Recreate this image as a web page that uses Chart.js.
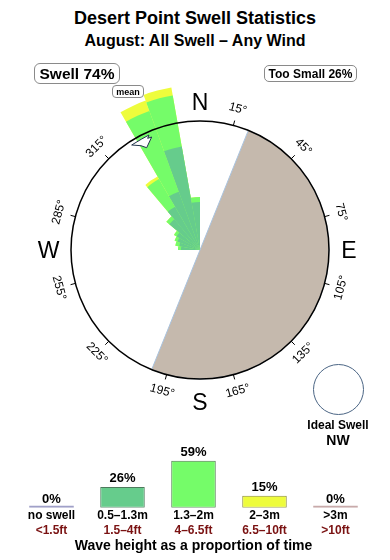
<!DOCTYPE html>
<html>
<head>
<meta charset="utf-8">
<script src="https://cdn.jsdelivr.net/npm/chart.js@4.4.1/dist/chart.umd.min.js"></script>
<style>
html,body{margin:0;padding:0;background:#fff;}
body{width:390px;height:560px;position:relative;overflow:hidden;font-family:"Liberation Sans",Arial,Helvetica,sans-serif;color:#000;}
.t{position:absolute;left:0;width:390px;text-align:center;font-weight:bold;white-space:nowrap;}
.box{position:absolute;box-sizing:border-box;border:1px solid #8a8a8a;border-radius:6px;display:flex;align-items:center;justify-content:center;font-weight:bold;white-space:nowrap;background:#fff;}
canvas{position:absolute;}
</style>
</head>
<body>
<div class="t" style="top:9px;font-size:18px;line-height:18px;">Desert Point Swell Statistics</div>
<div class="t" style="top:33px;font-size:16px;line-height:16px;">August: All Swell – Any Wind</div>

<canvas id="shade" width="340" height="340" style="left:30px;top:80px;"></canvas>
<canvas id="rose" width="340" height="340" style="left:30px;top:80px;"></canvas>
<canvas id="hist" width="355" height="120" style="left:16px;top:440px;"></canvas>

<div class="box" id="swellBox" style="left:34px;top:63px;width:86px;height:21px;font-size:15.5px;"></div>
<div class="box" id="smallBox" style="left:264px;top:65px;width:93px;height:17px;font-size:12px;border-radius:5px;"></div>
<div class="box" style="left:112px;top:85px;width:32px;height:13px;font-size:9px;border-radius:4px;">mean</div>

<div style="position:absolute;left:313px;top:364px;width:51px;height:51px;box-sizing:border-box;border:1px solid #4b6584;border-radius:50%;"></div>
<div class="t" style="left:288px;width:100px;top:419px;font-size:12px;line-height:12px;">Ideal Swell</div>
<div class="t" id="idealDir" style="left:288px;width:100px;top:433px;font-size:14px;line-height:14px;"></div>

<script>
// ---------- data ----------
const swellPct = 74;
const tooSmallPct = 26;
const idealDirection = 'NW';

// sheltered (too small) sector, compass degrees
const shelteredFrom = 22;
const shelteredTo = 202;

// swell rose: direction bins (centre, 10° wide) and band lengths
const roseDirections = [275, 285, 295, 305, 315, 325, 335, 345, 355];
const roseBand1 = [19, 21, 24, 27, 40, 50, 62, 105, 48];   // 0.5–1.3m
const roseBand2 = [3, 4, 3, 3, 4, 32, 86, 52, 5];          // 1.3–2m
const roseBand3 = [0, 0, 0, 0, 0, 3, 11, 8, 0];            // 2–3m
const roseMax = 170;
const rimValue = 129;
const degreeTicks = [15, 45, 75, 105, 135, 165, 195, 225, 255, 285, 315, 345];
const cardinals = ['N', 'E', 'S', 'W'];
const meanDirection = 332;

// wave height histogram
const heightClassesM = ['no swell', '0.5–1.3m', '1.3–2m', '2–3m', '>3m'];
const heightClassesFt = ['<1.5ft', '1.5–4ft', '4–6.5ft', '6.5–10ft', '>10ft'];
const heightShare = [0, 26, 59, 15, 0];

// ---------- setup ----------
const FONT = '"Liberation Sans", Arial, Helvetica, sans-serif';
Chart.defaults.font.family = FONT;
document.getElementById('swellBox').textContent = 'Swell ' + swellPct + '%';
document.getElementById('smallBox').textContent = 'Too Small ' + tooSmallPct + '%';
document.getElementById('idealDir').textContent = idealDirection;

const C_SMALL = '#66cc8c', C_MID = '#75fc69', C_BIG = '#eefc3c';

// build 36 bins
const binLabels = [];
for (let i = 0; i < 36; i++) binLabels.push(i * 10 + '°');
const cum1 = new Array(36).fill(0), cum2 = new Array(36).fill(0), cum3 = new Array(36).fill(0);
roseDirections.forEach((d, k) => {
  const b = Math.floor(d / 10);
  cum1[b] = roseBand1[k];
  cum2[b] = roseBand1[k] + roseBand2[k];
  cum3[b] = roseBand1[k] + roseBand2[k] + roseBand3[k];
});

// sheltered half-disc (pie)
const shelterSpan = shelteredTo - shelteredFrom;
new Chart(document.getElementById('shade'), {
  type: 'pie',
  data: {
    labels: ['too small', 'open'],
    datasets: [{
      data: [shelterSpan, 360 - shelterSpan],
      backgroundColor: ['#c5b9ad', 'rgba(255,255,255,0)'],
      borderColor: ['#a9c3df', 'rgba(255,255,255,0)'],
      borderWidth: [1, 0]
    }]
  },
  options: {
    responsive: false, animation: false,
    radius: rimValue,
    rotation: shelteredFrom,
    plugins: { legend: { display: false }, tooltip: { enabled: false } }
  }
});

function polar(s, deg, r) {
  const a = deg * Math.PI / 180;
  return [s.xCenter + Math.sin(a) * r, s.yCenter - Math.cos(a) * r];
}

const compassDeco = {
  id: 'compassDeco',
  beforeDatasetsDraw(chart) {
    const s = chart.scales.r, ctx = chart.ctx;
    const R = s.getDistanceFromCenterForValue(rimValue);
    ctx.save();
    ctx.strokeStyle = '#000';
    ctx.lineWidth = 1;
    ctx.fillStyle = '#000';
    ctx.font = '12px ' + FONT;
    ctx.textAlign = 'center';
    ctx.textBaseline = 'middle';
    degreeTicks.forEach(a => {
      const p1 = polar(s, a, R), p2 = polar(s, a, R + 5);
      ctx.beginPath(); ctx.moveTo(p1[0], p1[1]); ctx.lineTo(p2[0], p2[1]); ctx.stroke();
      const p = polar(s, a, R + 17);
      const rot = (a > 90 && a < 270) ? a - 180 : a;
      ctx.save();
      ctx.translate(p[0], p[1]);
      ctx.rotate(rot * Math.PI / 180);
      ctx.fillText(a + '°', 0, 0);
      ctx.restore();
    });
    ctx.font = '23px ' + FONT;
    ctx.textBaseline = 'alphabetic';
    const off = [19, 20, 23, 22.5];
    cardinals.forEach((c, i) => {
      const p = polar(s, i * 90, R + off[i]);
      ctx.fillText(c, p[0], p[1] + 23 * 0.358);
    });
    ctx.restore();
  },
  afterDraw(chart) {
    const s = chart.scales.r, ctx = chart.ctx;
    const R = s.getDistanceFromCenterForValue(rimValue);
    const c = polar(s, meanDirection, R - 5);
    const pts = [[-10.1, 4.5], [-0.1, -1.5], [7.2, -5.5], [5.9, -2.2], [9.9, -3.5], [4.9, 7.2], [-0.8, 5.2]];
    ctx.save();
    ctx.beginPath();
    pts.forEach((q, i) => { if (i === 0) ctx.moveTo(c[0] + q[0], c[1] + q[1]); else ctx.lineTo(c[0] + q[0], c[1] + q[1]); });
    ctx.closePath();
    ctx.fillStyle = '#fff';
    ctx.fill();
    ctx.strokeStyle = '#22344c';
    ctx.lineWidth = 1;
    ctx.stroke();
    ctx.restore();
  }
};

new Chart(document.getElementById('rose'), {
  type: 'polarArea',
  data: {
    labels: binLabels,
    datasets: [
      { label: '0.5–1.3m', data: cum1, backgroundColor: C_SMALL, borderWidth: 0 },
      { label: '1.3–2m', data: cum2, backgroundColor: C_MID, borderWidth: 0 },
      { label: '2–3m', data: cum3, backgroundColor: C_BIG, borderWidth: 0 }
    ]
  },
  options: {
    responsive: false, animation: false,
    plugins: { legend: { display: false }, tooltip: { enabled: false } },
    scales: {
      r: {
        min: 0, max: roseMax,
        ticks: { display: false },
        angleLines: { display: false },
        pointLabels: { display: false },
        grid: { circular: true, color: '#000', lineWidth: 1.5, z: 1 },
        afterBuildTicks: (sc) => { sc.ticks = [{ value: 0 }, { value: rimValue }]; }
      }
    }
  },
  plugins: [compassDeco]
});

// ---------- histogram ----------
const pctLabels = {
  id: 'pctLabels',
  afterDatasetsDraw(chart) {
    const ctx = chart.ctx, meta = chart.getDatasetMeta(0), ys = chart.scales.y;
    ctx.save();
    ctx.font = 'bold 13px ' + FONT;
    ctx.fillStyle = '#000';
    ctx.textAlign = 'center';
    ctx.textBaseline = 'middle';
    meta.data.forEach((el, i) => {
      const v = heightShare[i];
      ctx.fillText(v + '%', el.x, ys.getPixelForValue(v) - 8.5);
    });
    ctx.restore();
  }
};

new Chart(document.getElementById('hist'), {
  type: 'bar',
  data: {
    labels: heightClassesM,
    datasets: [{
      data: heightShare,
      backgroundColor: ['#a0a0c8', C_SMALL, C_MID, C_BIG, '#c8aaaa'],
      borderColor: ['#a0a0c8', '#4d7a5c', '#4d7a4d', '#8a8a3a', '#c8aaaa'],
      borderWidth: [0, 1, 1, 1, 0],
      borderSkipped: false,
      minBarLength: 2,
      barPercentage: 0.627,
      categoryPercentage: 1
    }]
  },
  options: {
    responsive: false, animation: false,
    layout: { padding: { top: 0, bottom: 1.6, left: 0, right: 0 } },
    plugins: { legend: { display: false }, tooltip: { enabled: false } },
    scales: {
      x: {
        position: 'bottom', weight: 0,
        grid: { display: false, drawTicks: false }, border: { display: false },
        ticks: { color: '#000', padding: 2.3, autoSkip: false, maxRotation: 0,
                 font: { size: 12, weight: 'bold', lineHeight: 1 } }
      },
      x2: {
        type: 'category', position: 'bottom', weight: 1,
        labels: heightClassesFt,
        grid: { display: false, drawTicks: false }, border: { display: false },
        ticks: { color: '#7a1212', padding: 0, autoSkip: false, maxRotation: 0,
                 font: { size: 12, weight: 'bold', lineHeight: 1 } },
        title: { display: true, text: 'Wave height as a proportion of time', color: '#000',
                 font: { size: 14, weight: 'bold', lineHeight: 1.2 }, padding: { top: 1.3, bottom: 4 } }
      },
      y: { display: false, min: 0, max: 85 }
    }
  },
  plugins: [pctLabels]
});
</script>
</body>
</html>
